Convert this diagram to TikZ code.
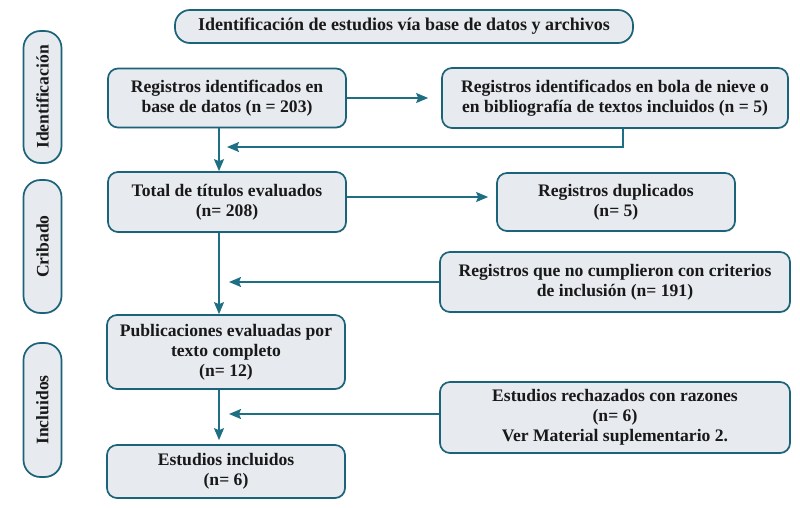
\documentclass[tikz,border=0pt]{standalone}
\usepackage{fontspec}
\setmainfont{Liberation Serif}
\usetikzlibrary{arrows.meta,shadows}
\definecolor{edgec}{HTML}{1B6378}
\definecolor{boxfill}{HTML}{E7EAEF}
\definecolor{arrc}{HTML}{1E6E84}
\begin{document}
\begin{tikzpicture}[x=1pt,y=-1pt,
  box/.style={draw=edgec, line width=1.7pt, fill=boxfill, rounded corners=10pt, align=center,
    font=\fontsize{17.6}{20}\selectfont\bfseries, inner sep=0pt, text=black!90,
    drop shadow={opacity=0.2,shadow xshift=0.8pt,shadow yshift=-1pt}},
  lab/.style={box, rounded corners=17pt, rotate=90},
  link/.style={draw=arrc, line width=1.7pt, -{Stealth[length=12pt,width=10pt,inset=2pt]}}]
\useasboundingbox (0,0) rectangle (800,508);
% title
\node[box, rounded corners=15pt, minimum width=458, minimum height=33, font=\fontsize{18}{20}\selectfont\bfseries] (title) at (404,26.5)
  {Identificación de estudios vía base de datos y archivos};
% side labels
\node[lab, minimum width=132, minimum height=38] (idl) at (42.5,97) {Identificación};
\node[lab, minimum width=133, minimum height=38] (crl) at (42.5,246.5) {Cribado};
\node[lab, minimum width=134, minimum height=38] (inl) at (42.5,410) {Incluidos};
% main column
\node[box, minimum width=238, minimum height=59] (A) at (227,98)
  {Registros identificados en\\base de datos (n = 203)};
\node[box, minimum width=238, minimum height=60] (C) at (227,202)
  {Total de títulos evaluados\\(n= 208)};
\node[box, minimum width=238, minimum height=74] (F) at (226,352)
  {Publicaciones evaluadas por\\texto completo\\(n= 12)};
\node[box, minimum width=238, minimum height=53] (H) at (226,471.5)
  {Estudios incluidos\\(n= 6)};
% right column
\node[box, minimum width=346, minimum height=60] (B) at (615,98)
  {Registros identificados en bola de nieve o\\en bibliografía de textos incluidos (n = 5)};
\node[box, minimum width=238, minimum height=58] (D) at (616,202)
  {Registros duplicados\\(n= 5)};
\node[box, minimum width=350, minimum height=60] (E) at (615,282)
  {Registros que no cumplieron con criterios\\de inclusión (n= 191)};
\node[box, minimum width=350, minimum height=71] (G) at (615,417.5)
  {Estudios rechazados con razones\\(n= 6)\\Ver Material suplementario 2.};
% helper coordinates
\coordinate (vx) at (219,0);
\coordinate (bx) at (623,0);
\coordinate (cy) at (0,197);
\coordinate (j1) at (227,147);
\coordinate (j2) at (229,282);
\coordinate (j3) at (229,414);
% connectors
\draw[link, shorten >=13pt] (A.east) -- (A.east -| B.west);
\draw[link] (B.south -| bx) |- (j1);
\draw[link] (A.south -| vx) -- (C.north -| vx);
\draw[link, shorten >=8pt] (C.east |- cy) -- (D.west |- cy);
\draw[link] (E.west) -- (j2);
\draw[link] (C.south -| vx) -- (F.north -| vx);
\draw[link] (G.west |- j3) -- (j3);
\draw[link, shorten >=4pt] (F.south -| vx) -- (H.north -| vx);
\end{tikzpicture}
\end{document}
